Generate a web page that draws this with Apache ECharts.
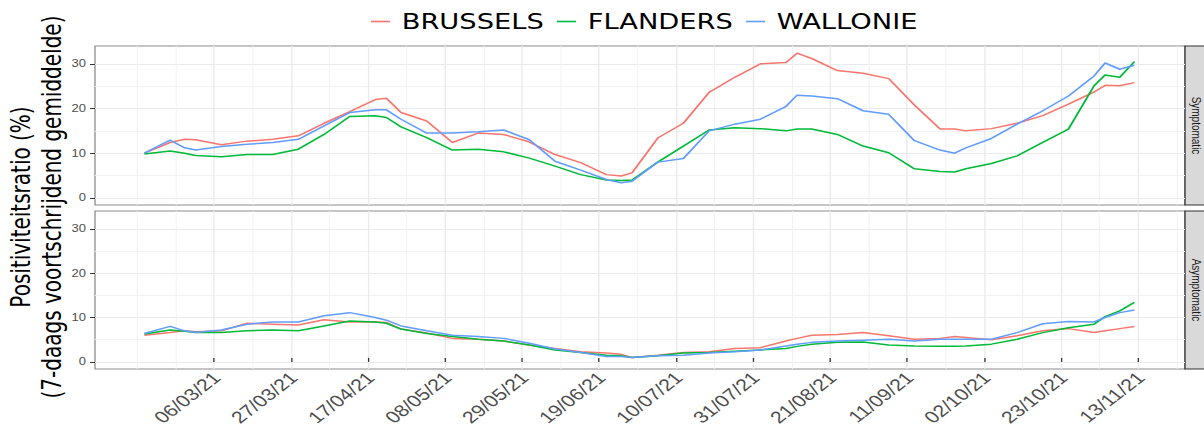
<!DOCTYPE html>
<html>
<head>
<meta charset="utf-8">
<script src="https://cdn.jsdelivr.net/npm/echarts@6/dist/echarts.min.js"></script>
<style>
  html, body { margin: 0; padding: 0; background: #fff; overflow: hidden; }
  /* the reference is a horizontally stretched plot, so draw narrow and stretch */
  #chart { width: 926px; height: 432px; transform: scaleX(1.30022); transform-origin: 0 0; }
</style>
</head>
<body>
<div id="chart"></div>
<script>
// Positiviteitsratio per gewest, symptomatisch / asymptomatisch
var dates = ['2021-02-15','2021-02-22','2021-02-26','2021-03-01','2021-03-08','2021-03-15','2021-03-22','2021-03-29',
  '2021-04-05','2021-04-12','2021-04-19','2021-04-22','2021-04-26','2021-05-03','2021-05-10','2021-05-17',
  '2021-05-24','2021-05-31','2021-06-07','2021-06-14','2021-06-21','2021-06-25','2021-06-28','2021-07-05',
  '2021-07-12','2021-07-19','2021-07-26','2021-08-02','2021-08-09','2021-08-12','2021-08-16','2021-08-23',
  '2021-08-30','2021-09-06','2021-09-13','2021-09-20','2021-09-24','2021-09-27','2021-10-04','2021-10-11',
  '2021-10-18','2021-10-25','2021-11-01','2021-11-04','2021-11-08','2021-11-12'];

var symBrussels = [10.0,12.4,13.1,13.0,11.9,12.7,13.1,13.9,16.7,19.3,22.0,22.3,19.1,17.2,12.4,14.5,
  14.2,12.5,9.7,7.9,5.2,4.9,5.6,13.4,16.7,23.6,27.0,30.0,30.3,32.4,31.2,28.5,
  27.9,26.7,20.8,15.4,15.4,15.0,15.5,16.7,18.4,21.0,23.7,25.2,25.1,25.8];
var symFlanders = [9.8,10.5,10.0,9.5,9.2,9.7,9.7,10.9,14.2,18.2,18.4,18.0,15.9,13.5,10.7,10.9,
  10.3,8.9,7.1,5.2,4.0,3.9,4.0,8.0,11.6,15.2,15.7,15.5,15.0,15.4,15.4,14.2,
  11.6,10.1,6.5,5.9,5.8,6.5,7.7,9.4,12.4,15.4,25.1,27.5,27.0,30.5];
var symWallonie = [10.0,12.9,11.2,10.7,11.5,12.0,12.4,13.1,16.1,19.1,19.7,19.7,17.6,14.5,14.5,14.8,
  15.2,13.0,8.2,6.2,4.1,3.4,3.7,8.0,8.8,15.0,16.5,17.6,20.5,23.0,22.8,22.2,
  19.5,18.7,12.8,10.7,10.0,11.2,13.3,16.5,19.5,22.8,27.3,30.2,28.8,29.7];

var asymBrussels = [6.0,6.6,7.0,6.8,7.0,8.7,8.5,8.3,9.5,9.0,9.0,8.9,7.4,6.5,5.3,5.1,
  4.7,3.8,3.0,2.3,2.0,1.7,1.0,1.5,2.1,2.3,3.0,3.2,4.7,5.3,6.0,6.2,
  6.6,5.9,5.1,5.3,5.7,5.5,5.0,5.9,7.0,7.5,6.6,7.0,7.5,8.0];
var asymFlanders = [6.3,7.2,6.9,6.6,6.6,7.0,7.2,7.0,8.1,9.2,9.0,8.7,7.4,6.4,5.7,5.1,
  4.7,3.8,2.7,2.1,1.5,1.4,1.0,1.4,2.0,2.1,2.4,2.7,3.0,3.5,4.0,4.4,
  4.5,3.8,3.6,3.5,3.5,3.6,4.0,5.1,6.6,7.7,8.5,10.2,11.5,13.4];
var asymWallonie = [6.4,8.0,7.0,6.6,7.2,8.5,9.0,9.0,10.4,11.1,10.0,9.4,8.1,7.0,6.0,5.7,
  5.3,4.2,2.9,2.1,1.2,1.2,1.0,1.4,1.5,2.0,2.3,2.7,3.6,4.0,4.4,4.7,
  4.9,5.1,4.7,5.1,5.1,5.1,5.1,6.6,8.6,9.1,9.0,10.0,11.1,11.7];

var tickDates = ['2021-03-06','2021-03-27','2021-04-17','2021-05-08','2021-05-29','2021-06-19','2021-07-10',
  '2021-07-31','2021-08-21','2021-09-11','2021-10-02','2021-10-23','2021-11-13'];
var yMajor = [0, 10, 20, 30];
var yMinor = [5, 15, 25];

var names = ['BRUSSELS', 'FLANDERS', 'WALLONIE'];
var colors = ['#F8766D', '#00BA38', '#619CFF'];
var facets = ['Symptomatic', 'Asymptomatic'];

(function() {
  var SX = 1204 / 926;
  function px(x) { return x / SX; }  // reference pixel -> unstretched pixel
  var DAY = 864e5;
  var xMin = Date.UTC(2021, 1, 1, 13);
  var xMax = Date.UTC(2021, 10, 25, 19);
  var yMin = -1.6, yMax = 34;

  var major = tickDates.map(function(d) { return Date.parse(d); });
  var minor = [major[0] - 21 * DAY];
  major.forEach(function(t) { minor.push(t - 10.5 * DAY); });
  minor.push(major[major.length - 1] + 10.5 * DAY);

  function two(n) { return (n < 10 ? '0' : '') + n; }
  function fmtDate(v) {
    var d = new Date(v);
    return two(d.getUTCDate()) + '/' + two(d.getUTCMonth() + 1) + '/' + String(d.getUTCFullYear()).slice(2);
  }

  var panelLeft = px(95), panelRight = 926 - px(1185);
  var tops = [46, 211], heights = [159, 158];

  var grids = [], xAxes = [], yAxes = [];
  [0, 1].forEach(function(g) {
    grids.push({
      left: panelLeft, right: panelRight, top: tops[g], height: heights[g],
      show: true, backgroundColor: '#fff', borderColor: '#8c8c8c', borderWidth: 1,
      outerBoundsMode: 'none'
    });
    // minor vertical grid, carries the data (x = timestamp)
    xAxes.push({
      type: 'value', gridIndex: g, min: xMin, max: xMax,
      axisLine: { show: false },
      axisTick: { show: false, customValues: minor },
      axisLabel: { show: false },
      splitLine: { show: true, lineStyle: { color: '#f2f2f2', width: 0.8 } }
    });
    // major vertical grid, ticks on the bottom panel
    xAxes.push({
      type: 'value', gridIndex: g, min: xMin, max: xMax,
      axisLine: { show: false },
      axisTick: { show: g === 1, customValues: major, length: 4, lineStyle: { color: '#333', width: 1 } },
      axisLabel: { show: false },
      splitLine: { show: true, lineStyle: { color: '#ebebeb', width: 1.1 } }
    });
    yAxes.push({
      type: 'value', gridIndex: g, min: yMin, max: yMax,
      axisLine: { show: false },
      axisTick: { show: true, customValues: yMajor, length: 3.8, lineStyle: { color: '#333', width: 1 } },
      axisLabel: { customValues: yMajor, margin: 7, color: '#4d4d4d', fontSize: 10, fontFamily: 'Liberation Sans' },
      splitLine: { show: true, lineStyle: { color: '#ebebeb', width: 1.1 } }
    });
    yAxes.push({
      type: 'value', gridIndex: g, min: yMin, max: yMax,
      axisLine: { show: false },
      axisTick: { show: false, customValues: yMinor },
      axisLabel: { show: false },
      splitLine: { show: true, lineStyle: { color: '#f2f2f2', width: 0.8 } }
    });
  });

  var panelData = [[symBrussels, symFlanders, symWallonie], [asymBrussels, asymFlanders, asymWallonie]];
  var series = [];
  [0, 1].forEach(function(g) {
    panelData[g].forEach(function(vals, i) {
      series.push({
        name: names[i], type: 'line',
        xAxisIndex: g * 2, yAxisIndex: g * 2,
        showSymbol: false, symbol: 'none',
        lineStyle: { color: colors[i], width: 1.5 },
        itemStyle: { color: colors[i] },
        data: dates.map(function(d, k) { return [Date.parse(d), vals[k]]; }),
        z: 3
      });
    });
  });

  var legendLeft = [371, 557, 746];
  var legends = names.map(function(n, i) {
    return {
      data: [n], left: px(legendLeft[i]), top: 11, padding: 0, selectedMode: false,
      icon: 'rect', itemWidth: px(19), itemHeight: 1.6,
      textStyle: { color: '#000', fontSize: 21, fontFamily: 'DejaVu Sans', padding: [0, 0, 0, 4] }
    };
  });

  var graphics = [{
    type: 'text', x: px(36), y: 207, rotation: Math.PI / 2,
    style: {
      text: 'Positiviteitsratio (%)\n(7-daags voortschrijdend gemiddelde)',
      fill: '#000', fontSize: 20, fontFamily: 'DejaVu Sans', lineHeight: 24,
      align: 'center', verticalAlign: 'middle'
    }
  }];
  [0, 1].forEach(function(g) {
    graphics.push({
      type: 'rect',
      shape: { x: px(1185), y: tops[g], width: px(24), height: heights[g] },
      style: { fill: '#d9d9d9', stroke: '#333', lineWidth: 1 }
    });
    graphics.push({
      type: 'text', x: px(1196.7), y: tops[g] + heights[g] / 2, rotation: -Math.PI / 2,
      style: {
        text: facets[g], fill: '#1a1a1a', fontSize: 10, fontFamily: 'Liberation Sans',
        align: 'center', verticalAlign: 'middle'
      }
    });
  });

  var chart = echarts.init(document.getElementById('chart'), null, { renderer: 'svg' });
  chart.setOption({
    animation: false,
    backgroundColor: '#fff',
    legend: legends,
    grid: grids,
    xAxis: xAxes,
    yAxis: yAxes,
    series: series,
    graphic: graphics
  });

  // rotated date labels, placed through the bottom panel's own scale
  major.forEach(function(t) {
    var p = chart.convertToPixel({ xAxisIndex: 3, yAxisIndex: 2 }, [t, yMin]);
    graphics.push({
      type: 'text', x: p[0] - px(5), y: p[1], rotation: Math.PI / 4,
      style: {
        text: fmtDate(t), fill: '#4d4d4d', fontSize: 16.5, fontFamily: 'Liberation Sans',
        align: 'right', verticalAlign: 'top'
      }
    });
  });
  chart.setOption({ graphic: graphics });
})();
</script>
</body>
</html>
